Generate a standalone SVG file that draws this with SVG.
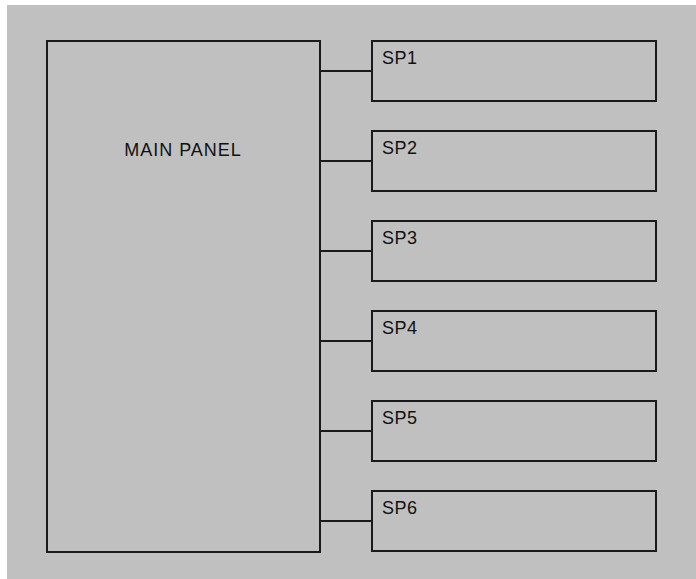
<svg xmlns="http://www.w3.org/2000/svg" width="696" height="579" viewBox="0 0 696 579">
<style>
.box{fill:none;stroke:#1a1a1a;stroke-width:2}
.ln{stroke:#1a1a1a;stroke-width:2;fill:none}
text{font-family:"Liberation Sans",Arial,sans-serif;font-size:18px;fill:#111;letter-spacing:0.5px}
</style>
<rect x="0" y="0" width="696" height="579" fill="#fff"/>
<rect x="7" y="5" width="689" height="574" fill="#c0c0c0"/>
<g id="main"><rect class="box" x="47" y="41" width="273" height="511"/><text x="183" y="156" text-anchor="middle" style="letter-spacing:1px">MAIN PANEL</text></g>
<g id="sp1"><rect class="box" x="372" y="41" width="284" height="60"/><text x="382" y="64">SP1</text></g>
<g id="sp2"><rect class="box" x="372" y="131" width="284" height="60"/><text x="382" y="154">SP2</text></g>
<g id="sp3"><rect class="box" x="372" y="221" width="284" height="60"/><text x="382" y="244">SP3</text></g>
<g id="sp4"><rect class="box" x="372" y="311" width="284" height="60"/><text x="382" y="334">SP4</text></g>
<g id="sp5"><rect class="box" x="372" y="401" width="284" height="60"/><text x="382" y="424">SP5</text></g>
<g id="sp6"><rect class="box" x="372" y="491" width="284" height="60"/><text x="382" y="514">SP6</text></g>
<g id="connectors">
<line class="ln" x1="320" y1="71" x2="372" y2="71"/>
<line class="ln" x1="320" y1="161" x2="372" y2="161"/>
<line class="ln" x1="320" y1="251" x2="372" y2="251"/>
<line class="ln" x1="320" y1="341" x2="372" y2="341"/>
<line class="ln" x1="320" y1="431" x2="372" y2="431"/>
<line class="ln" x1="320" y1="521" x2="372" y2="521"/>
</g>
</svg>
